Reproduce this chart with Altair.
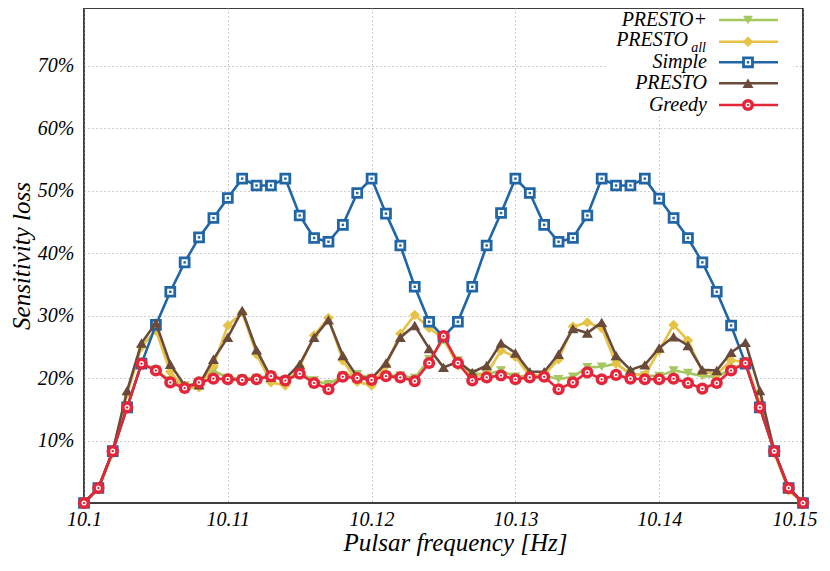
import altair as alt
import pandas as pd

# ---------------- data ----------------
freq = [10.100, 10.101, 10.102, 10.103, 10.104, 10.105, 10.106, 10.107, 10.108, 10.109,
        10.110, 10.111, 10.112, 10.113, 10.114, 10.115, 10.116, 10.117, 10.118, 10.119,
        10.120, 10.121, 10.122, 10.123, 10.124, 10.125, 10.126, 10.127, 10.128, 10.129,
        10.130, 10.131, 10.132, 10.133, 10.134, 10.135, 10.136, 10.137, 10.138, 10.139,
        10.140, 10.141, 10.142, 10.143, 10.144, 10.145, 10.146, 10.147, 10.148, 10.149,
        10.150]

presto_plus = [0, 2.4, 8.3, 15.3, 22.3, 21.3, 19.6, 18.8, 19.2, 21.2,
               20.0, 19.9, 20.0, 20.4, 19.7, 20.8, 19.6, 19.0, 20.4, 20.6,
               20.0, 20.4, 20.4, 20.0, 23.0, 26.0, 22.8, 20.7, 20.6, 21.2,
               20.2, 20.4, 20.4, 19.8, 20.2, 21.7, 21.8, 22.3, 20.7, 20.4,
               20.3, 21.2, 20.8, 20.3, 20.2, 21.4, 22.4, 15.3, 8.3, 2.4, 0]

presto_all = [0, 2.2, 8.0, 17.5, 25.0, 27.6, 21.0, 18.4, 18.5, 22.0,
              28.4, 30.5, 23.8, 19.3, 18.8, 21.8, 26.8, 29.6, 22.8, 19.4,
              18.8, 22.0, 27.1, 30.1, 28.0, 26.3, 22.0, 20.3, 20.6, 24.4,
              23.4, 20.3, 20.5, 23.0, 28.2, 28.9, 28.0, 22.3, 20.6, 20.5,
              24.4, 28.5, 26.0, 21.0, 20.6, 22.8, 22.6, 16.0, 8.0, 2.0, 0]

simple = [0, 2.4, 8.3, 15.3, 22.3, 28.5, 33.8, 38.5, 42.5, 45.6,
          48.8, 51.9, 50.8, 50.8, 51.9, 46.0, 42.4, 41.8, 44.5, 49.6,
          51.9, 46.3, 41.2, 34.6, 29.0, 26.6, 29.0, 34.6, 41.2, 46.4,
          51.9, 49.6, 44.5, 41.8, 42.4, 46.0, 51.9, 50.8, 50.8, 51.9,
          48.7, 45.6, 42.4, 38.5, 33.8, 28.4, 22.3, 15.3, 8.3, 2.4, 0]

presto = [0, 2.4, 8.3, 18.0, 25.6, 28.8, 22.2, 18.8, 18.9, 23.0,
          26.5, 30.8, 24.5, 20.1, 19.9, 22.2, 26.5, 29.3, 23.6, 20.2,
          19.9, 22.4, 26.5, 28.4, 24.7, 21.7, 22.6, 20.9, 22.0, 25.6,
          24.0, 21.0, 21.0, 23.8, 27.9, 27.2, 28.9, 23.6, 21.3, 22.1,
          24.8, 26.6, 25.2, 21.3, 21.2, 24.1, 25.7, 18.0, 8.3, 2.4, 0]

greedy = [0, 2.4, 8.3, 15.3, 22.3, 21.2, 19.3, 18.4, 19.3, 19.9,
          19.8, 19.7, 19.8, 20.3, 19.6, 20.7, 19.2, 18.2, 20.2, 20.0,
          19.7, 20.3, 20.1, 19.5, 22.4, 26.7, 22.4, 19.6, 20.1, 20.4,
          19.8, 20.1, 20.2, 18.2, 19.3, 20.9, 19.8, 20.5, 19.9, 19.8,
          19.8, 19.9, 19.2, 18.3, 19.2, 21.2, 22.4, 15.3, 8.3, 2.4, 0]

series_names = ["PRESTO+", "PRESTO_all", "Simple", "PRESTO", "Greedy"]
series_values = [presto_plus, presto_all, simple, presto, greedy]
colors = ["#a6c75f", "#e6c245", "#2066a6", "#6a4a3a", "#e5263a"]

x_ticks = [10.10, 10.11, 10.12, 10.13, 10.14, 10.15]
y_ticks = [0.1, 0.2, 0.3, 0.4, 0.5, 0.6, 0.7]

rows = []
for name, vals in zip(series_names, series_values):
    for f, v in zip(freq, vals):
        rows.append({"freq": f, "series": name, "value": v / 100.0})
df = pd.DataFrame(rows)
one = pd.DataFrame({"k": [0]})

FONT = "Liberation Serif, 'Times New Roman', 'DejaVu Serif', serif"
color_of = dict(zip(series_names, colors))

xscale = alt.Scale(domain=[10.1, 10.15], nice=False, zero=False)
yscale = alt.Scale(domain=[0, 0.792], nice=False, zero=True)
xaxis = alt.Axis(values=x_ticks, format=".2~f", title="Pulsar frequency [Hz]",
                 titleX=371,
                 labelAlign={"condition": {"test": "datum.value > 10.149", "value": "right"},
                             "value": "center"},
                 labelOffset={"condition": {"test": "datum.value > 10.149", "value": 14},
                              "value": 0})
yaxis = alt.Axis(values=y_ticks, format=".0%", title="Sensitivity loss")
X = alt.X("freq:Q", scale=xscale, axis=xaxis)
Y = alt.Y("value:Q", scale=yscale, axis=yaxis)


def markers(base, name, x, y):
    c = color_of[name]
    if name == "PRESTO+":
        return [base.mark_point(shape="triangle-down", filled=True, color=c,
                                size=100, opacity=1).encode(x=x, y=y)]
    if name == "PRESTO_all":
        return [base.mark_point(shape="diamond", filled=True, color=c,
                                size=110, opacity=1).encode(x=x, y=y)]
    if name == "Simple":
        return [base.mark_square(fill="white", stroke=c, strokeWidth=2.8,
                                 size=80, opacity=1).encode(x=x, y=y),
                base.mark_square(color=c, size=6, opacity=1).encode(x=x, y=y)]
    if name == "PRESTO":
        return [base.mark_point(shape="triangle-up", filled=True, color=c,
                                size=120, opacity=1).encode(x=x, y=y)]
    return [base.mark_circle(color=c, size=150, opacity=1).encode(x=x, y=y),
            base.mark_point(shape="circle", filled=False, stroke="white",
                            strokeWidth=1.3, size=14, opacity=1).encode(x=x, y=y)]


layers = []
for name in series_names:
    base = alt.Chart(df).transform_filter(alt.datum.series == name)
    layers.append(base.mark_line(color=color_of[name], strokeWidth=2.6).encode(x=X, y=Y))
    layers += markers(base, name, X, Y)

# legend box (white, hides grid)
layers.append(alt.Chart(one).mark_rect(fill="white").encode(
    x=alt.value(522), x2=alt.value(709), y=alt.value(3), y2=alt.value(106)))

legend_y = [12, 33.7, 54.3, 75.3, 97]
for name, ly in zip(series_names, legend_y):
    b = alt.Chart(one)
    layers.append(b.mark_rule(color=color_of[name], strokeWidth=2.6).encode(
        x=alt.value(635), x2=alt.value(694), y=alt.value(ly)))
    layers += markers(b, name, alt.value(664), alt.value(ly))
    if name == "PRESTO_all":
        layers.append(b.mark_text(text="PRESTO", align="right", baseline="middle",
                                  font=FONT, fontStyle="italic", fontSize=20,
                                  color="black").encode(x=alt.value(604), y=alt.value(ly - 2)))
        layers.append(b.mark_text(text="all", align="right", baseline="middle",
                                  font=FONT, fontStyle="italic", fontSize=14,
                                  color="black").encode(x=alt.value(622), y=alt.value(ly + 6)))
    else:
        layers.append(b.mark_text(text=name, align="right", baseline="middle",
                                  font=FONT, fontStyle="italic", fontSize=20,
                                  color="black").encode(x=alt.value(623), y=alt.value(ly)))

chart = alt.layer(*layers).properties(
    width=719, height=495,
    padding={"left": 76, "top": 0, "right": 18, "bottom": 60},
    autosize=alt.AutoSizeParams(type="none"),
).configure_view(
    stroke="black", strokeWidth=1.5
).configure_axis(
    labelFont=FONT, labelFontStyle="italic", labelFontSize=20, labelColor="black",
    titleFont=FONT, titleFontStyle="italic", titleFontSize=25, titleFontWeight="normal",
    titleColor="black",
    grid=True, gridColor="#9a9a9a", gridDash=[1, 3], gridWidth=1,
    domain=False, ticks=False, labelFlush=False, labelOverlap=False,
).configure_axisX(
    labelPadding=6, titlePadding=1
).configure_axisY(
    labelPadding=10, titlePadding=3
)

chart.save("out.html", embed_options={"renderer": "svg", "actions": False})
